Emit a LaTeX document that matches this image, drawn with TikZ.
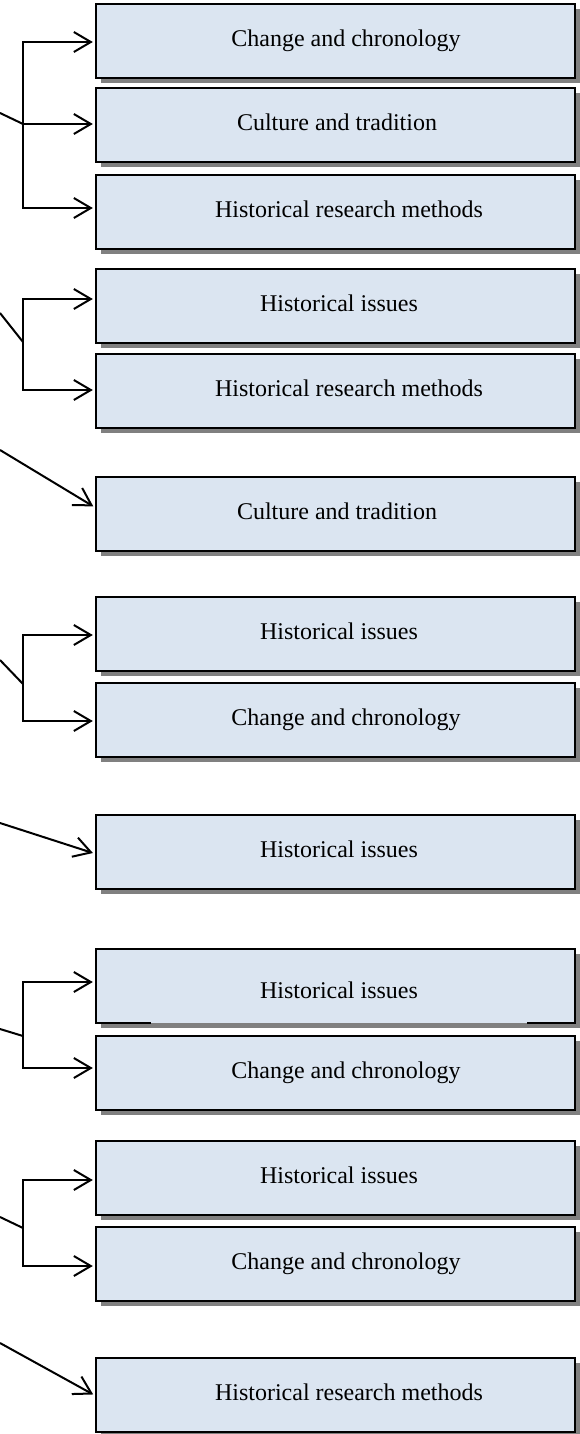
\documentclass[tikz,border=0pt]{standalone}
\usepackage{fontspec}
\setmainfont{Liberation Serif}
\usetikzlibrary{arrows.meta,shadows}
\definecolor{boxfill}{HTML}{DBE5F1}
\definecolor{shadowgray}{HTML}{808080}
\newcommand{\bxt}[2]{\hspace*{#1}\strut #2}
\begin{document}
\begin{tikzpicture}[x=0.5pt,y=-0.5pt,
  box/.style={draw=black, line width=0.85pt, fill=boxfill,
    minimum width=239.5pt, minimum height=37pt, inner sep=0pt, outer sep=0pt,
    font=\fontsize{12}{14.4}\selectfont,
    drop shadow={shadow xshift=2.5pt, shadow yshift=-2.5pt, fill=shadowgray, opacity=1}},
  ln/.style={line width=1pt},
  arr/.style={ln, -{Straight Barb[length=8.5pt,width=10pt]}, shorten >=1.6pt}]
\useasboundingbox (0,0) rectangle (579,1434);

% boxes
\node[box] (b1)  at (335.5,41)   {\bxt{10.5pt}{Change and chronology}};
\node[box] (b2)  at (335.5,125)  {\bxt{1.5pt}{Culture and tradition}};
\node[box] (b3)  at (335.5,212)  {\bxt{13.5pt}{Historical research methods}};
\node[box] (b4)  at (335.5,306)  {\bxt{3.5pt}{Historical issues}};
\node[box] (b5)  at (335.5,391)  {\bxt{13.5pt}{Historical research methods}};
\node[box] (b6)  at (335.5,514)  {\bxt{1.5pt}{Culture and tradition}};
\node[box] (b7)  at (335.5,634)  {\bxt{3.5pt}{Historical issues}};
\node[box] (b8)  at (335.5,720)  {\bxt{10.5pt}{Change and chronology}};
\node[box] (b9)  at (335.5,852)  {\bxt{3.5pt}{Historical issues}};
\node[box, draw=none] (b10) at (335.5,986)
  {\hspace*{3.5pt}\rule[-4.32pt]{0pt}{21.6pt}Historical issues};
\draw[line width=0.85pt] ([xshift=27.5pt]b10.south west) -- (b10.south west) -- (b10.north west)
  -- (b10.north east) -- (b10.south east) -- ([xshift=-24pt]b10.south east);
\node[box] (b11) at (335.5,1073) {\bxt{10.5pt}{Change and chronology}};
\node[box] (b12) at (335.5,1178) {\bxt{3.5pt}{Historical issues}};
\node[box] (b13) at (335.5,1264) {\bxt{10.5pt}{Change and chronology}};
\node[box] (b14) at (335.5,1395) {\bxt{13.5pt}{Historical research methods}};

% incoming line ends and junctions
\coordinate (in1) at (0,113);  \coordinate (j1) at (23,124);
\coordinate (in2) at (0,313);  \coordinate (j2) at (23,342);
\coordinate (in3) at (0,450);
\coordinate (in4) at (0,660);  \coordinate (j4) at (23,684);
\coordinate (in5) at (0,823);
\coordinate (in6) at (0,1029); \coordinate (j6) at (23,1036);
\coordinate (in7) at (0,1217); \coordinate (j7) at (23,1228);
\coordinate (in8) at (0,1343);

% group 1
\draw[ln] (in1) -- (j1);
\draw[arr] (j1) |- ([yshift=-0.5pt]b1.west);
\draw[arr] (j1) |- ([yshift=0.5pt]b2.west);
\draw[arr] (j1) |- ([yshift=2pt]b3.west);
% group 2
\draw[ln] (in2) -- (j2);
\draw[arr] (j2) |- ([yshift=3.5pt]b4.west);
\draw[arr] (j2) |- ([yshift=0.5pt]b5.west);
% group 3
\draw[arr] (in3) -- ([yshift=3pt]b6.west);
% group 4
\draw[ln] (in4) -- (j4);
\draw[arr] (j4) |- ([yshift=-0.5pt]b7.west);
\draw[arr] (j4) |- ([yshift=-0.5pt]b8.west);
% group 5
\draw[arr] (in5) -- ([yshift=-1pt]b9.west);
% group 6
\draw[ln] (in6) -- (j6);
\draw[arr] (j6) |- ([yshift=2pt]b10.west);
\draw[arr] (j6) |- ([yshift=2.5pt]b11.west);
% group 7
\draw[ln] (in7) -- (j7);
\draw[arr] (j7) |- ([yshift=-1pt]b12.west);
\draw[arr] (j7) |- ([yshift=-1pt]b13.west);
% group 8
\draw[arr] (in8) -- ([yshift=-0.5pt]b14.west);
\end{tikzpicture}
\end{document}
